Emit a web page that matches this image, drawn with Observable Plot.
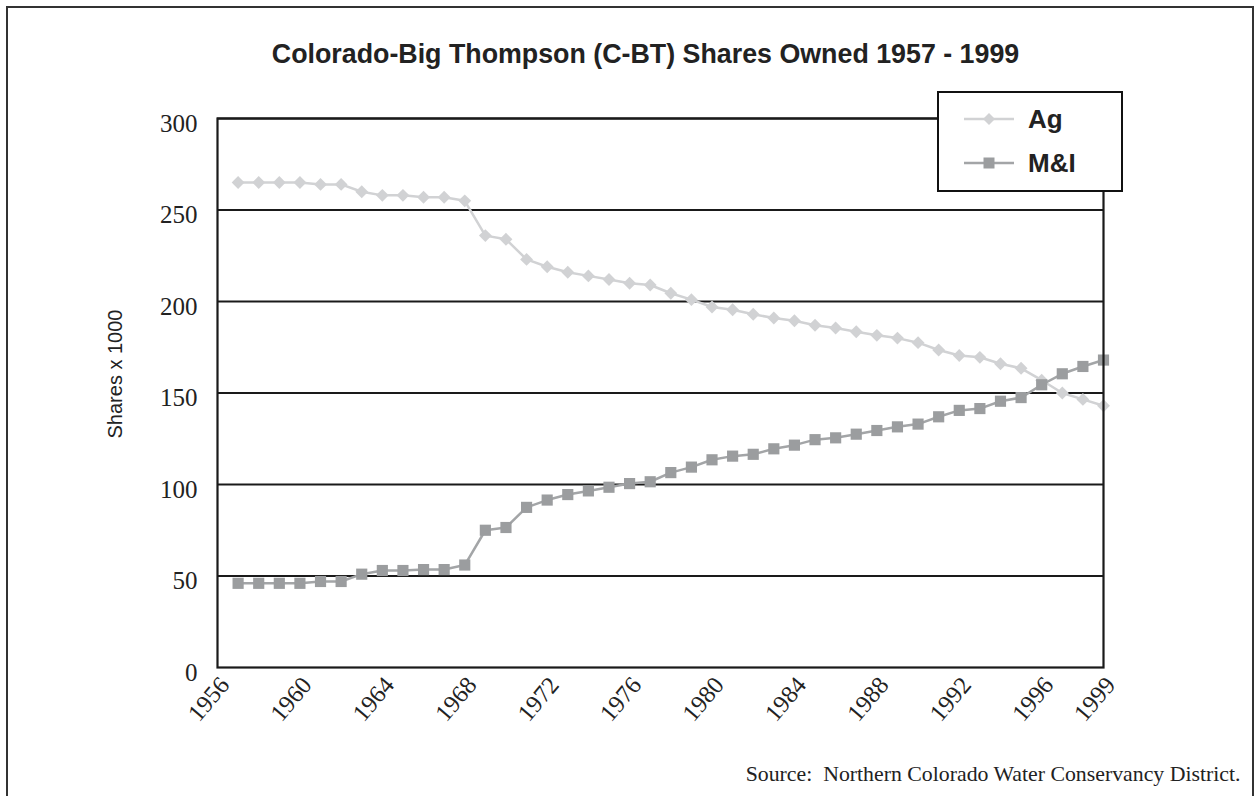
<!DOCTYPE html>
<html>
<head>
<meta charset="utf-8">
<script src="https://cdn.jsdelivr.net/npm/d3@7"></script>
<script src="https://cdn.jsdelivr.net/npm/@observablehq/plot@0.6"></script>
<style>
  html, body { margin: 0; padding: 0; overflow: hidden; background: #fff; }
  #wrap { position: relative; width: 1255px; height: 796px; overflow: hidden; }
  #border { position: absolute; left: 6px; top: 6px; width: 1248px; height: 840px; border: 2px solid #333; box-sizing: border-box; pointer-events: none; }
  #chart { position: absolute; left: 0; top: 0; }
  #legend { position: absolute; left: 937px; top: 91px; width: 186px; height: 101px; border: 2px solid #111; background: #fff; box-sizing: border-box; }
</style>
</head>
<body>
<div id="wrap">
  <div id="chart"></div>
  <div id="border"></div>
  <div id="legend"></div>
</div>
<script>
const years = d3.range(1957, 2000);
const agShares = [265, 265, 265, 265, 264, 264, 260, 258, 258, 257, 257, 255, 236, 234, 223, 219, 216, 214, 212, 210, 209, 204.5, 201, 197, 195.5, 193, 191, 189.5, 187, 185.5, 183.5, 181.5, 180, 177.5, 173.5, 170.5, 169.5, 166, 163.5, 157, 150, 146.5, 143];
const miShares = [46, 46, 46, 46, 47, 47, 51, 53, 53, 53.5, 53.5, 56, 75, 76.5, 87.5, 91.5, 94.5, 96.5, 98.5, 100.5, 101.5, 106.5, 109.5, 113.5, 115.5, 116.5, 119.5, 121.5, 124.5, 125.5, 127.5, 129.5, 131.5, 133, 137, 140.5, 141.5, 145.5, 147.5, 154.5, 160.5, 164.5, 168];
const xTicks = [1956, 1960, 1964, 1968, 1972, 1976, 1980, 1984, 1988, 1992, 1996, 1999];
const yTicks = [0, 50, 100, 150, 200, 250, 300];
const seriesNames = ["Ag", "M&I"];
const titleText = "Colorado-Big Thompson (C-BT) Shares Owned 1957 - 1999";
const yLabel = "Shares x 1000";
const sourceText = "Source:  Northern Colorado Water Conservancy District.";

const agColor = "#d1d2d4";
const miColor = "#9b9d9f";
const miLine = "#a3a5a7";

const ag = years.map((year, i) => ({year, value: agShares[i]}));
const mi = years.map((year, i) => ({year, value: miShares[i]}));

const chart = Plot.plot({
  width: 1255,
  height: 796,
  marginLeft: 217,
  marginRight: 152,
  marginTop: 118,
  marginBottom: 129,
  x: {domain: [1956, 1999]},
  y: {domain: [0, 300]},
  marks: [
    Plot.ruleY(yTicks.filter(d => d > 0), {stroke: "#1a1a1a", strokeWidth: 2}),
    Plot.line(ag, {x: "year", y: "value", stroke: agColor, strokeWidth: 2.5}),
    Plot.dot(ag, {x: "year", y: "value", symbol: "diamond2", r: 5.8, fill: agColor, stroke: "none"}),
    Plot.line(mi, {x: "year", y: "value", stroke: miLine, strokeWidth: 2.5}),
    Plot.dot(mi, {x: "year", y: "value", symbol: "square", r: 6.3, fill: miColor, stroke: "none"}),
    Plot.frame({stroke: "#1a1a1a", strokeWidth: 2.2}),
    Plot.axisY({ticks: yTicks, tickSize: 0, tickPadding: 20, dy: 5, fontSize: 25, fontFamily: "Liberation Serif", fill: "#222", label: null}),
    Plot.axisX({ticks: xTicks, tickFormat: d => String(d), tickSize: 0, tickPadding: 13, dx: 7, tickRotate: -50, fontSize: 24.5, fontFamily: "Liberation Serif", fill: "#222", label: null}),
    Plot.text([titleText], {frameAnchor: "top", dx: -15, dy: -56, lineAnchor: "bottom", fontSize: 26.8, fontWeight: "bold", fontFamily: "Liberation Sans", fill: "#222"}),
    Plot.text([yLabel], {frameAnchor: "left", dx: -102, dy: -19, rotate: -90, textAnchor: "middle", fontSize: 20, fontFamily: "Liberation Sans", fill: "#222"}),
    Plot.text([sourceText], {frameAnchor: "bottom-right", dx: 137, dy: 113, textAnchor: "end", lineAnchor: "bottom", fontSize: 21.8, fontFamily: "Liberation Serif", fill: "#222"})
  ]
});
document.getElementById("chart").appendChild(chart);

// Legend
const ns = "http://www.w3.org/2000/svg";
const lg = document.createElementNS(ns, "svg");
lg.setAttribute("width", 182);
lg.setAttribute("height", 97);
const items = [
  {name: seriesNames[0], line: agColor, fill: agColor, sym: "diamond", y: 26},
  {name: seriesNames[1], line: miLine, fill: miColor, sym: "square", y: 70}
];
for (const it of items) {
  const l = document.createElementNS(ns, "line");
  l.setAttribute("x1", 25); l.setAttribute("x2", 75);
  l.setAttribute("y1", it.y); l.setAttribute("y2", it.y);
  l.setAttribute("stroke", it.line); l.setAttribute("stroke-width", 2.5);
  lg.appendChild(l);
  const s = document.createElementNS(ns, "path");
  const cx = 50;
  if (it.sym === "diamond") {
    s.setAttribute("d", `M${cx},${it.y - 6}L${cx + 6},${it.y}L${cx},${it.y + 6}L${cx - 6},${it.y}Z`);
  } else {
    s.setAttribute("d", `M${cx - 5.5},${it.y - 5.5}h11v11h-11Z`);
  }
  s.setAttribute("fill", it.fill);
  lg.appendChild(s);
  const t = document.createElementNS(ns, "text");
  t.setAttribute("x", 89); t.setAttribute("y", it.y + 9);
  t.setAttribute("font-family", "Liberation Sans");
  t.setAttribute("font-weight", "bold");
  t.setAttribute("font-size", 26);
  t.setAttribute("fill", "#222");
  t.textContent = it.name;
  lg.appendChild(t);
}
document.getElementById("legend").appendChild(lg);
</script>
</body>
</html>
